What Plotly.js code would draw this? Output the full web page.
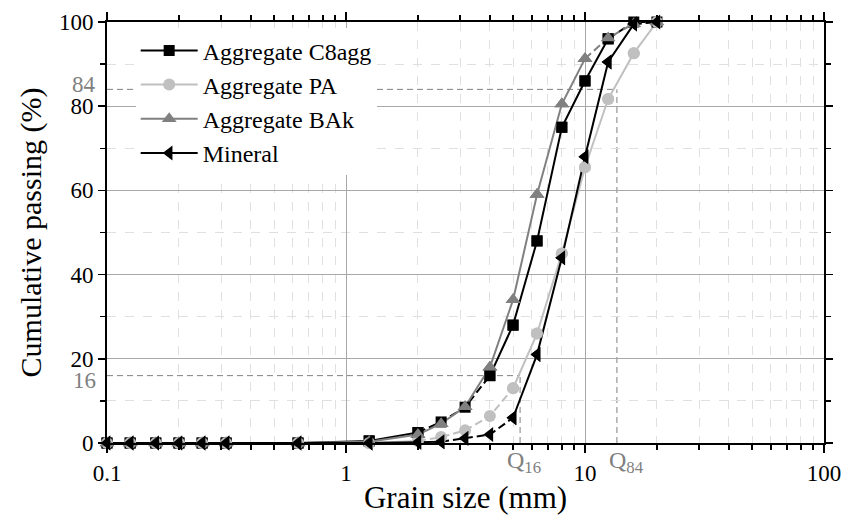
<!DOCTYPE html>
<html><head><meta charset="utf-8">
<script src="https://cdn.plot.ly/plotly-3.0.1.min.js"></script>
<style>html,body{margin:0;padding:0;background:#fff}#chart{width:844px;height:519px}</style>
</head><body><div id="chart"></div>
<script>
// ---- data ----
const grainSize = [0.1, 0.125, 0.16, 0.2, 0.25, 0.315, 0.63, 1.25, 2, 2.5, 3.15, 4, 5, 6.3, 8, 10, 12.5, 16, 20];
const c8agg   = [0, 0, 0, 0, 0, 0, 0, 0.5, 2.5, 5, 8.5, 16, 28, 48, 75, 86, 96, 100, 100];
const pa      = [0, 0, 0, 0, 0, 0, 0, 0, 0.5, 1.4, 3, 6.4, 13, 26, 45, 65.5, 81.7, 92.6, 100];
const bak     = [0, 0, 0, 0, 0, 0, 0, 0.3, 2, 4.6, 8.6, 18, 34, 59, 80.5, 91.3, 96.2, 99.6, 100];
const mineral = [0, 0, 0, 0, 0, 0, 0, 0, 0.2, 0.3, 1.1, 2, 6, 21, 44, 68, 90.5, 99.5, 100];
const seriesNames = ["Aggregate C8agg", "Aggregate PA", "Aggregate BAk", "Mineral"];
const q16 = 5.35, q84 = 13.6;       // characteristic grain sizes (mm)
const p16 = 16, p84 = 84;           // passing levels (%)
const xTickVals = [0.1, 1, 10, 100];
const xTickText = ["0.1", "1", "10", "100"];

// ---- styles ----
const styles = [
  {color: "#000000", symbol: "square", size: 11, dashed: [[8, 11], [16, 18]]},
  {color: "#c0c0c0", symbol: "circle", size: 12, dashed: [[8, 12]]},
  {color: "#808080", symbol: "triangle-up", size: 13, dashed: [[15, 18]]},
  {color: "#000000", symbol: "triangle-left", size: 13, dashed: [[9, 12], [17, 18]]}
];
const allY = [c8agg, pa, bak, mineral];
const FONT = "Liberation Serif";

function isDashedSeg(i, ranges) { return ranges.some(r => i >= r[0] && i < r[1]); }
function split(y, ranges) {
  const s = y.map(() => null), d = y.map(() => null);
  for (let i = 0; i < y.length - 1; i++) {
    const t = isDashedSeg(i, ranges) ? d : s;
    t[i] = y[i]; t[i + 1] = y[i + 1];
  }
  return [s, d];
}

const traces = [];
allY.forEach((y, k) => {
  const st = styles[k];
  const [ys, yd] = split(y, st.dashed);
  traces.push({x: grainSize, y: yd, mode: "lines", line: {color: st.color, width: 2, dash: "8px,4px"},
    connectgaps: false, showlegend: false, hoverinfo: "skip", cliponaxis: false});
  traces.push({x: grainSize, y: ys, mode: "lines+markers", name: seriesNames[k],
    line: {color: st.color, width: 2}, connectgaps: false,
    marker: {symbol: st.symbol, size: st.size, color: st.color}, cliponaxis: false});
});
allY.forEach((y, k) => {
  const st = styles[k];
  traces.push({x: grainSize, y: y, mode: "markers", showlegend: false, cliponaxis: false,
    marker: {symbol: st.symbol, size: st.size, color: st.color}});
});

const grey = "#808080";
const layout = {
  width: 844, height: 519,
  margin: {l: 107, r: 20, t: 22, b: 76},
  paper_bgcolor: "#fff", plot_bgcolor: "#fff",
  font: {family: FONT, color: "#000", size: 23},
  showlegend: true,
  legend: {x: 0.04, y: 0.985, xanchor: "left", yanchor: "top", bgcolor: "#fff",
    font: {family: FONT, size: 24}, itemwidth: 57, tracegroupgap: 0},
  xaxis: {type: "log", range: [-1, 2], tickvals: xTickVals, ticktext: xTickText,
    ticks: "outside", ticklen: 8, tickwidth: 1.5, tickcolor: "#000", mirror: "allticks",
    showline: true, linecolor: "#000", linewidth: 2,
    showgrid: true, gridcolor: "#a8a8a8", gridwidth: 1, zeroline: false,
    tickfont: {family: FONT, size: 23},
    minor: {dtick: "D1", ticks: "outside", ticklen: 5, tickcolor: "#000", showgrid: true,
      gridcolor: "#e0e0e0", griddash: "dash", gridwidth: 1},
    title: {text: "Grain size (mm)", font: {family: FONT, size: 31}, standoff: 2}},
  yaxis: {range: [0, 100], dtick: 20, ticks: "outside", ticklen: 7, tickwidth: 1.5, tickcolor: "#000",
    mirror: "allticks", showline: true, linecolor: "#000", linewidth: 2,
    showgrid: true, gridcolor: "#a8a8a8", gridwidth: 1, zeroline: false,
    tickfont: {family: FONT, size: 23},
    minor: {dtick: 10, ticks: "outside", ticklen: 5, tickcolor: "#000", showgrid: true,
      gridcolor: "#e0e0e0", griddash: "dash", gridwidth: 1},
    title: {text: "Cumulative passing (%)", font: {family: FONT, size: 30}, standoff: 8}},
  shapes: [
    {type: "line", xref: "x", yref: "y", x0: grainSize[0], x1: q84, y0: p84, y1: p84,
      line: {color: grey, width: 1, dash: "6px,4px"}, layer: "below"},
    {type: "line", xref: "x", yref: "y", x0: q84, x1: q84, y0: 0, y1: p84,
      line: {color: grey, width: 1, dash: "6px,4px"}, layer: "below"},
    {type: "line", xref: "x", yref: "y", x0: grainSize[0], x1: q16, y0: p16, y1: p16,
      line: {color: grey, width: 1, dash: "6px,4px"}, layer: "below"},
    {type: "line", xref: "x", yref: "y", x0: q16, x1: q16, y0: 0, y1: p16,
      line: {color: grey, width: 1, dash: "6px,4px"}, layer: "below"}
  ],
  annotations: [
    {xref: "paper", yref: "y", x: 0, y: p84, text: String(p84), showarrow: false, xanchor: "right",
      yanchor: "middle", xshift: -9, yshift: 5, font: {family: FONT, size: 23, color: grey}},
    {xref: "paper", yref: "y", x: 0, y: p16, text: String(p16), showarrow: false, xanchor: "right",
      yanchor: "middle", xshift: -9, yshift: -5, font: {family: FONT, size: 23, color: grey}},
    {xref: "x", yref: "paper", x: Math.log10(q16), y: 0, text: "Q<sub>16</sub>", showarrow: false,
      xanchor: "center", yanchor: "top", xshift: 4, yshift: -2, font: {family: FONT, size: 24, color: grey}},
    {xref: "x", yref: "paper", x: Math.log10(q84), y: 0, text: "Q<sub>84</sub>", showarrow: false,
      xanchor: "center", yanchor: "top", xshift: 10, yshift: -2, font: {family: FONT, size: 24, color: grey}}
  ]
};
Plotly.newPlot("chart", traces, layout, {displayModeBar: false, staticPlot: true});
</script></body></html>
